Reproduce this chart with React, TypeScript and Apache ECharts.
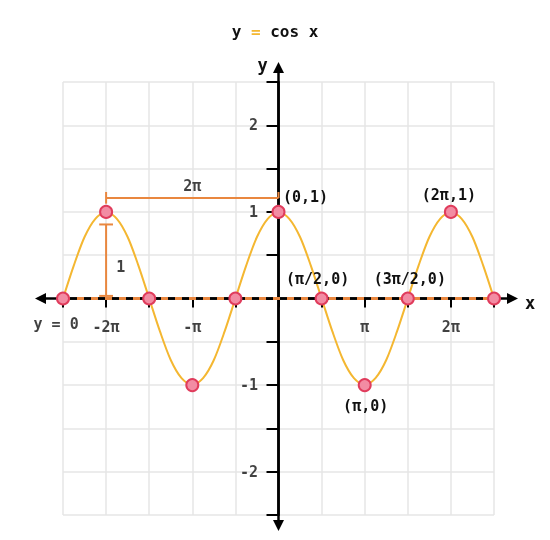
import React, { useEffect, useRef } from 'react';
import * as echarts from 'echarts';

// x values are in multiples of π
const curveX = [
  -2.5, -2.375, -2.25, -2.125, -2, -1.875, -1.75, -1.625, -1.5, -1.375, -1.25, -1.125, -1,
  -0.875, -0.75, -0.625, -0.5, -0.375, -0.25, -0.125, 0, 0.125, 0.25, 0.375, 0.5, 0.625,
  0.75, 0.875, 1, 1.125, 1.25, 1.375, 1.5, 1.625, 1.75, 1.875, 2, 2.125, 2.25, 2.375, 2.5,
];
const curveY = [
  0, 0.38, 0.71, 0.92, 1, 0.92, 0.71, 0.38, 0, -0.38, -0.71, -0.92, -1,
  -0.92, -0.71, -0.38, 0, 0.38, 0.71, 0.92, 1, 0.92, 0.71, 0.38, 0, -0.38,
  -0.71, -0.92, -1, -0.92, -0.71, -0.38, 0, 0.38, 0.71, 0.92, 1, 0.92, 0.71, 0.38, 0,
];

const keyX = [-2.5, -2, -1.5, -1, -0.5, 0, 0.5, 1, 1.5, 2, 2.5];
const keyY = [0, 1, 0, -1, 0, 1, 0, -1, 0, 1, 0];
const keyLabels = ['', '', '', '', '', '(0,1)', '(π/2,0)', '(π,0)', '(3π/2,0)', '(2π,1)', ''];

const xTickValues = [-2, -1, 1, 2];
const xTickTexts = ['-2π', '-π', 'π', '2π'];
const yTickValues = [-2, -1, 1, 2];
const yTickTexts = ['-2', '-1', '1', '2'];

// orange bracket pieces: period 2π and amplitude 1
const bracketSegments = [
  [[-2, 1.16], [0, 1.16]],
  [[-2, 1.23], [-2, 1.095]],
  [[0, 1.23], [0, 1.16]],
  [[-2, 0.855], [-2, 0.03]],
  [[-2.08, 0.855], [-1.92, 0.855]],
  [[-2.08, 0.03], [-1.92, 0.03]],
];
const noteTexts = ['2π', '1', 'y = 0'];
const noteX = [-1, -1.83, -2.58];
const noteY = [1.3, 0.36, -0.3];

const FONT = 'DejaVu Sans Mono';
const ORANGE = '#e9873f';
const YELLOW = '#f4b731';
const INK = '#111';

const labelPlacement: Record<string, { position: string; offset: number[] }> = {
  '(0,1)': { position: 'top', offset: [27, 5] },
  '(2π,1)': { position: 'top', offset: [-2, 3] },
  '(π/2,0)': { position: 'top', offset: [-4, 0] },
  '(3π/2,0)': { position: 'top', offset: [2, 0] },
  '(π,0)': { position: 'bottom', offset: [1, 1] },
};

const textLabel = { fontFamily: FONT, fontSize: 15, fontWeight: 'bold', color: INK };

export default function App() {
  const ref = useRef<HTMLDivElement>(null);

  useEffect(() => {
    if (!ref.current) return;
    const chart = echarts.init(ref.current, null, { renderer: 'svg' });

    const xMin = -2.5, xMax = 2.5, yMin = -2.5, yMax = 2.5;

    const labelPoint = (value: number[], text: string, position: string, distance: number) => ({
      value,
      label: { show: true, formatter: text, position, distance, ...textLabel },
    });

    const option: any = {
      animation: false,
      title: {
        text: '{t|y }{e|=}{t| cos x}',
        left: 'center',
        top: 18,
        textStyle: {
          rich: {
            t: { fontFamily: FONT, fontSize: 16, fontWeight: 'bold', color: INK },
            e: { fontFamily: FONT, fontSize: 16, fontWeight: 'bold', color: YELLOW },
          },
        },
      },
      grid: { left: 63, right: 56, top: 82, bottom: 25 },
      xAxis: {
        type: 'value',
        min: xMin,
        max: xMax,
        interval: 0.5,
        axisLine: { onZero: true, lineStyle: { color: '#000', width: 2.5 } },
        axisTick: { show: true, length: 9, lineStyle: { color: '#000', width: 2 } },
        axisLabel: { show: false },
        splitLine: { show: true, lineStyle: { color: '#e6e6e6', width: 1.5 } },
      },
      yAxis: {
        type: 'value',
        min: yMin,
        max: yMax,
        interval: 0.5,
        axisLine: { onZero: true, lineStyle: { color: '#000', width: 2.5 } },
        axisTick: { show: true, length: 12, lineStyle: { color: '#000', width: 2 } },
        axisLabel: { show: false },
        splitLine: { show: true, lineStyle: { color: '#e6e6e6', width: 1.5 } },
      },
      series: [
        {
          type: 'line',
          z: 2,
          data: [[xMin, 0], [xMax, 0]],
          symbol: 'none',
          lineStyle: { color: ORANGE, width: 3, type: [7, 7] },
        },
        {
          type: 'line',
          z: 3,
          data: curveX.map((x, i) => [x, curveY[i]]),
          smooth: 0.3,
          symbol: 'none',
          lineStyle: { color: YELLOW, width: 2 },
        },
        ...bracketSegments.map((seg) => ({
          type: 'line',
          z: 3,
          data: seg,
          symbol: 'none',
          lineStyle: { color: ORANGE, width: 2 },
        })),
        {
          type: 'scatter',
          z: 5,
          symbol: 'circle',
          symbolSize: 12,
          itemStyle: { color: '#f28ca3', borderColor: '#e03c5c', borderWidth: 2, opacity: 1 },
          data: keyX.map((x, i) => {
            const text = keyLabels[i];
            const place = labelPlacement[text];
            return {
              value: [x, keyY[i]],
              label: text
                ? { show: true, formatter: text, position: place.position, offset: place.offset, ...textLabel }
                : { show: false },
            };
          }),
        },
        {
          // notes and tick labels
          type: 'scatter',
          z: 6,
          clip: false,
          silent: true,
          symbol: 'circle',
          symbolSize: 1,
          itemStyle: { color: 'transparent' },
          data: [
            ...noteTexts.map((t, i) => labelPoint([noteX[i], noteY[i]], t, 'inside', 0)),
            ...xTickValues.map((v, i) => labelPoint([v, 0], xTickTexts[i], 'bottom', 20)),
            ...yTickValues.map((v, i) => labelPoint([0, v], yTickTexts[i], 'left', 20)),
          ],
        },
      ],
    };

    chart.setOption(option);

    const [ox, oy] = chart.convertToPixel({ gridIndex: 0 }, [0, 0]) as number[];
    const [lx, ty] = chart.convertToPixel({ gridIndex: 0 }, [xMin, yMax]) as number[];
    const [rx, by] = chart.convertToPixel({ gridIndex: 0 }, [xMax, yMin]) as number[];
    const axisStyle = { stroke: '#000', lineWidth: 2.5 };

    chart.setOption({
      graphic: [
        { type: 'line', z: 1, shape: { x1: lx - 20, y1: oy, x2: rx + 14, y2: oy }, style: axisStyle },
        { type: 'line', z: 1, shape: { x1: ox, y1: ty - 12, x2: ox, y2: by + 8 }, style: axisStyle },
        {
          type: 'polygon',
          z: 1,
          shape: { points: [[lx - 28, oy], [lx - 17, oy - 5.5], [lx - 17, oy + 5.5]] },
          style: { fill: '#000' },
        },
        {
          type: 'polygon',
          z: 1,
          shape: { points: [[rx + 24, oy], [rx + 13, oy - 5.5], [rx + 13, oy + 5.5]] },
          style: { fill: '#000' },
        },
        {
          type: 'polygon',
          z: 1,
          shape: { points: [[ox, ty - 20], [ox - 5.5, ty - 9], [ox + 5.5, ty - 9]] },
          style: { fill: '#000' },
        },
        {
          type: 'polygon',
          z: 1,
          shape: { points: [[ox, by + 16], [ox - 5.5, by + 5], [ox + 5.5, by + 5]] },
          style: { fill: '#000' },
        },
        {
          type: 'text',
          z: 10,
          x: ox - 16,
          y: ty - 17,
          style: {
            text: 'y', fontFamily: FONT, fontSize: 17, fontWeight: 'bold', fill: INK,
            align: 'center', verticalAlign: 'middle',
          },
        },
        {
          type: 'text',
          z: 10,
          x: rx + 36,
          y: oy + 4,
          style: {
            text: 'x', fontFamily: FONT, fontSize: 17, fontWeight: 'bold', fill: INK,
            align: 'center', verticalAlign: 'middle',
          },
        },
      ],
    });

    return () => chart.dispose();
  }, []);

  return <div ref={ref} style={{ position: 'fixed', left: 0, top: 0, width: 550, height: 540 }} />;
}
